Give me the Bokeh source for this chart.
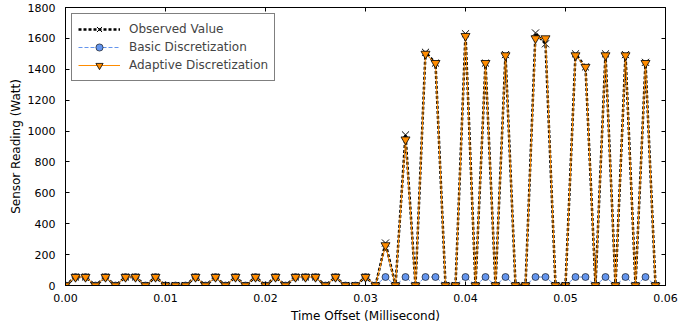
from bokeh.plotting import figure
from bokeh.models import LinearAxis, Range1d, FixedTicker, NumeralTickFormatter, CustomJSTickFormatter
from bokeh.embed import file_html
from bokeh.resources import INLINE

time_offset = [0.000, 0.001, 0.002, 0.003, 0.004, 0.005, 0.006, 0.007, 0.008, 0.009,
               0.010, 0.011, 0.012, 0.013, 0.014, 0.015, 0.016, 0.017, 0.018, 0.019,
               0.020, 0.021, 0.022, 0.023, 0.024, 0.025, 0.026, 0.027, 0.028, 0.029,
               0.030, 0.031, 0.032, 0.033, 0.034, 0.035, 0.036, 0.037, 0.038, 0.039,
               0.040, 0.041, 0.042, 0.043, 0.044, 0.045, 0.046, 0.047, 0.048, 0.049,
               0.050, 0.051, 0.052, 0.053, 0.054, 0.055, 0.056, 0.057, 0.058, 0.059]

observed = [0, 55, 55, 0, 55, 0, 55, 55, 0, 55,
            0, 0, 0, 55, 0, 55, 0, 55, 0, 55,
            0, 55, 0, 55, 55, 55, 0, 55, 0, 0,
            55, 0, 275, 0, 975, 0, 1510, 1440, 0, 0,
            1630, 0, 1440, 0, 1495, 0, 0, 1635, 1565, 0,
            0, 1500, 1415, 0, 1500, 0, 1495, 0, 1445, 0]

basic = [0, 55, 55, 0, 55, 0, 55, 55, 0, 55,
         0, 0, 0, 55, 0, 55, 0, 55, 0, 55,
         0, 55, 0, 55, 55, 55, 0, 55, 0, 0,
         55, 0, 55, 0, 55, 0, 55, 55, 0, 0,
         55, 0, 55, 0, 55, 0, 0, 55, 55, 0,
         0, 55, 55, 0, 55, 0, 55, 0, 55, 0]

adaptive = [0, 55, 55, 0, 55, 0, 55, 55, 0, 55,
            0, 0, 0, 55, 0, 55, 0, 55, 0, 55,
            0, 55, 0, 55, 55, 55, 0, 55, 0, 0,
            55, 0, 260, 0, 945, 0, 1500, 1440, 0, 0,
            1615, 0, 1440, 0, 1490, 0, 0, 1600, 1600, 0,
            0, 1490, 1415, 0, 1490, 0, 1490, 0, 1440, 0]

x_ticks = [0.0, 0.01, 0.02, 0.03, 0.04, 0.05, 0.06]
y_ticks = [0, 200, 400, 600, 800, 1000, 1200, 1400, 1600, 1800]

FONT = "DejaVu Sans"

p = figure(width=697, height=325, x_range=Range1d(0, 0.06), y_range=Range1d(0, 1800),
           output_backend="svg", toolbar_location=None,
           min_border_left=65, min_border_right=32, min_border_top=7, min_border_bottom=5)
p.xgrid.visible = False
p.ygrid.visible = False
p.outline_line_color = "black"
p.outline_line_width = 1
p.background_fill_color = "white"
p.border_fill_color = "white"

for ax in p.xaxis:
    ax.ticker = FixedTicker(ticks=x_ticks)
    ax.formatter = NumeralTickFormatter(format="0.00")
    ax.axis_label = "Time Offset (Millisecond)"
    ax.major_label_standoff = 8
    ax.axis_label_standoff = 4
for ax in p.yaxis:
    ax.ticker = FixedTicker(ticks=y_ticks)
    ax.axis_label = "Sensor Reading (Watt)"
    ax.major_label_standoff = 10
    ax.axis_label_standoff = 2

for ax in list(p.xaxis) + list(p.yaxis):
    ax.major_tick_in = 4
    ax.major_tick_out = 0
    ax.minor_tick_in = 0
    ax.minor_tick_out = 0
    ax.axis_line_color = "black"
    ax.major_tick_line_color = "black"
    ax.major_label_text_font = FONT
    ax.major_label_text_font_size = "11px"
    ax.major_label_text_color = "black"
    ax.axis_label_text_font = FONT
    ax.axis_label_text_font_size = "12px"
    ax.axis_label_text_font_style = "normal"
    ax.axis_label_text_color = "black"

blank = CustomJSTickFormatter(code="return '';")
top = LinearAxis(ticker=FixedTicker(ticks=x_ticks), formatter=blank,
                 major_tick_in=4, major_tick_out=0, minor_tick_in=0, minor_tick_out=0,
                 major_label_standoff=0, axis_line_color="black")
right = LinearAxis(ticker=FixedTicker(ticks=y_ticks), formatter=blank,
                   major_tick_in=4, major_tick_out=0, minor_tick_in=0, minor_tick_out=0,
                   major_label_standoff=0, axis_line_color="black")
p.add_layout(top, "above")
p.add_layout(right, "right")

# Observed
p.line(time_offset, observed, line_color="black", line_width=2.5, line_dash="3 2",
       legend_label="Observed Value")
p.scatter(time_offset, observed, marker="x", size=10, line_color="black", line_width=1,
          legend_label="Observed Value")

# Basic
p.line(time_offset, basic, line_color="#6495ED", line_width=1, line_dash="4 2",
       legend_label="Basic Discretization")
p.scatter(time_offset, basic, marker="circle", size=7, fill_color="#6495ED",
          line_color="black", line_width=0.6, legend_label="Basic Discretization")

# Adaptive
p.line(time_offset, adaptive, line_color="#FF8C00", line_width=1,
       legend_label="Adaptive Discretization")
p.scatter(time_offset, adaptive, marker="inverted_triangle", size=9, fill_color="#FF8C00",
          line_color="black", line_width=0.8, legend_label="Adaptive Discretization")

lg = p.legend[0]
lg.location = "top_left"
lg.margin = 6
lg.padding = 6
lg.spacing = 0
lg.glyph_width = 42
lg.glyph_height = 18
lg.label_height = 18
lg.label_standoff = 9
lg.label_text_font = FONT
lg.label_text_font_size = "12px"
lg.border_line_color = "black"
lg.border_line_width = 1
lg.background_fill_alpha = 1.0

open("out.html", "w").write(file_html(p, INLINE))
